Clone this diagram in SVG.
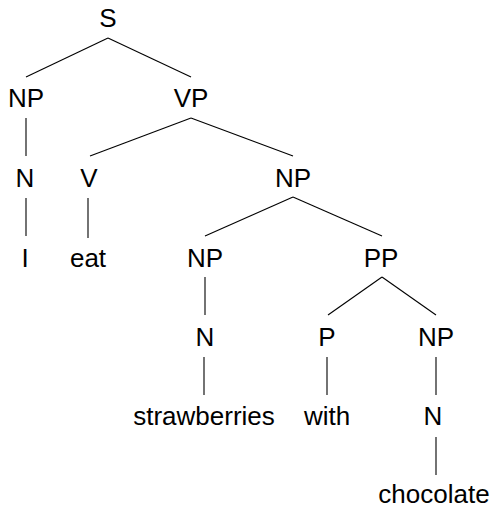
<svg xmlns="http://www.w3.org/2000/svg" width="496" height="509" viewBox="0 0 496 509">
  <style>
    text { font-family: "Liberation Sans", Arial, sans-serif; font-size: 26px; fill: #000; text-anchor: middle; }
    .edge { stroke: #000; stroke-width: 1.1; fill: none; }
  </style>
  <rect width="496" height="509" fill="#fff"/>
  <g id="edges">
    <line class="edge" x1="108" y1="38" x2="26" y2="77"/>
    <line class="edge" x1="108" y1="38" x2="191" y2="77"/>
    <line class="edge" x1="26" y1="118" x2="26" y2="156"/>
    <line class="edge" x1="191" y1="118" x2="90" y2="156"/>
    <line class="edge" x1="191" y1="118" x2="293" y2="156"/>
    <line class="edge" x1="26" y1="198" x2="26" y2="236"/>
    <line class="edge" x1="88" y1="198" x2="88" y2="238"/>
    <line class="edge" x1="293" y1="197" x2="205" y2="236"/>
    <line class="edge" x1="293" y1="197" x2="382" y2="236"/>
    <line class="edge" x1="205" y1="277" x2="205" y2="315"/>
    <line class="edge" x1="382" y1="277" x2="328" y2="315"/>
    <line class="edge" x1="382" y1="277" x2="436" y2="315"/>
    <line class="edge" x1="204" y1="357" x2="204" y2="395"/>
    <line class="edge" x1="327" y1="357" x2="327" y2="395"/>
    <line class="edge" x1="436" y1="357" x2="436" y2="395"/>
    <line class="edge" x1="436" y1="437" x2="436" y2="475"/>
  </g>
  <g id="n-s"><text x="108" y="27">S</text></g>
  <g id="n-np1"><text x="26" y="107">NP</text></g>
  <g id="n-vp"><text x="191" y="107">VP</text></g>
  <g id="n-n1"><text x="25" y="187">N</text></g>
  <g id="n-v"><text x="89" y="187">V</text></g>
  <g id="n-np2"><text x="293" y="187">NP</text></g>
  <g id="n-i"><text x="25" y="267">I</text></g>
  <g id="n-eat"><text x="88" y="267">eat</text></g>
  <g id="n-np3"><text x="205" y="267">NP</text></g>
  <g id="n-pp"><text x="381" y="267">PP</text></g>
  <g id="n-n2"><text x="205" y="346">N</text></g>
  <g id="n-p"><text x="327" y="346">P</text></g>
  <g id="n-np4"><text x="436" y="346">NP</text></g>
  <g id="n-strawberries"><text x="204" y="425">strawberries</text></g>
  <g id="n-with"><text x="327" y="425">with</text></g>
  <g id="n-n3"><text x="433" y="425">N</text></g>
  <g id="n-chocolate"><text x="434" y="503">chocolate</text></g>
</svg>
